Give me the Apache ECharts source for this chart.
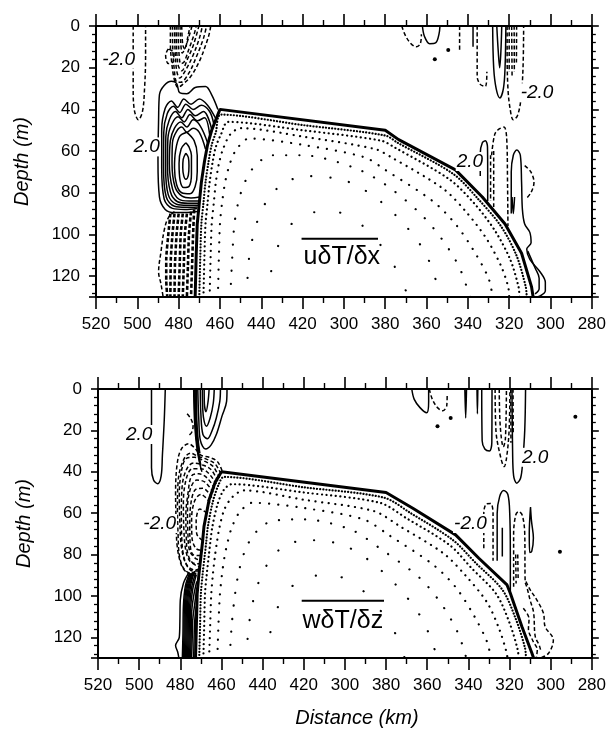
<!DOCTYPE html>
<html><head><meta charset="utf-8">
<script src="https://cdn.jsdelivr.net/npm/echarts@6/dist/echarts.min.js"></script>
<style>html,body{margin:0;padding:0;background:#fff}#c{width:609px;height:735px}</style>
</head><body><div id="c"></div>
<script>
// ---------- axis ticks ----------
const xTickValues = [520,500,480,460,440,420,400,380,360,340,320,300,280];
const xTickLabels = ['520','500','480','460','440','420','300','380','360','340','320','300','280'];
const yTickValues = [0,20,40,60,80,100,120];

// ---------- top panel: u dT/dx ----------
const uBoundary = [[472,130],[471.5,110],[471,95],[470,85],[469,75],[467.5,65],[466,57],[464,50],[462,45],[460,40],[380,50],[373.5,54.5],[346,69],[333,82],[322,95],[314,109],[309.2,125],[308.4,130]];
const uStipple = [
 [[470,130],[469.5,110],[469,95],[468,85],[467,75],[465.5,65],[464,57],[462,51],[459.5,42.5],[420,47.5],[380,52.5],[374,56],[347,71],[335,83],[324,96],[316.5,110],[312,125],[311.5,130]],
 [[468,130],[467.5,110],[467,95],[466,85],[465,75],[463.5,65],[462,58],[459.5,52],[456,46],[420,50],[382,55],[375,58.5],[349,73.5],[337,85],[327,98],[319.5,112],[315.5,125],[315,130]],
 [[465,130],[464.5,110],[464,95],[463,85],[462,75],[460.5,66],[458.5,59],[455,52],[450,49],[420,53],[385,59],[377,63],[352,78],[341,89],[331,102],[324,115],[320.5,125],[320,130]],
 [[461,130],[460.5,110],[460,95],[459,85],[457.5,75],[455.5,67],[452.5,60],[446,54],[420,57],[390,63],[380,69],[357,84],[346,95],[337,108],[330,121],[328,130]],
 [[455,130],[454,110],[453,95],[451,84],[448,75],[443,67],[435,62],[420,62],[395,68],[380,76],[363,90],[352,103],[344,116],[339,130]],
 [[447,130],[446,112],[443,97],[438,85],[430,76],[418,72],[400,74],[385,82],[370,96],[360,110],[353,130]],
 [[437,130],[434,112],[428,98],[418,90],[405,89],[392,95],[380,108],[372,122],[369,130]]
];
const uPositive = [
 [[476.5,61],[477.8,64],[478,68],[477.5,72],[476.5,73.5],[475.3,71.5],[475,67],[475.3,63],[476.5,61]],
 [[476.5,56],[478.8,59],[479.8,66],[479.3,74],[477.5,77.5],[475,77],[473.8,71],[473.8,62],[475,58],[476.5,56]],
 [[476,51],[479.5,53],[481.5,60],[482,68],[481,76],[478.5,80],[474.5,80.5],[472,77],[471,70],[471,62],[472.5,55],[476,51]],
 [[469.8,82],[474,82.5],[478.5,81.5],[481.8,77],[483.2,66],[483,56],[481,50.5],[478.5,48.5],[476,51],[473,49],[470,51],[467,59]],
 [[470,84],[475,84],[480,83],[483,78],[484.5,66],[484,55],[482,49],[479,46],[476,48.5],[473,45],[469.5,48],[466,56]],
 [[470.3,85],[475.5,85],[480.5,84.3],[484,79.5],[485.4,67],[485.2,54],[483.3,47],[480.3,43.5],[477.3,46],[474.5,42.5],[471,45.5],[467.5,44],[465,52]],
 [[470.5,86],[476,86],[481,85.5],[485,81],[486.3,68],[486.2,53],[484.5,45],[481.5,41],[478.5,44],[475.5,40],[472,43],[468,41],[464,49.5]],
 [[470.8,86.8],[476.5,87],[482,86.5],[486,82],[487.3,68],[487.2,51],[485.5,42],[482.5,38.5],[479.5,41.5],[476.5,37.5],[473,40],[469,38],[465,41],[463,47]],
 [[471,87.5],[477,88],[483,87.5],[487,83],[488.2,68],[488.2,50],[486.5,39.5],[483.5,36],[480.5,39],[477.5,35],[474,37.5],[470,35],[466,38],[462,44.5]],
 [[471,89],[476,89.5],[482,89.5],[486.5,88],[489.3,82],[490,65],[489.7,45],[489.3,33],[487,28.5],[483.5,26.5],[481,27.5],[479.5,32],[476,32.5],[472,29.5],[467,29],[464,33],[461,40]],
 [[362,0],[361,5],[358.5,8.5],[355.5,8],[354,4],[353.5,0]],
 [[337.5,0],[337.5,10]],
 [[328,0],[327.5,20],[326.3,30],[324.5,34.5],[322.8,30],[322,20],[321.6,0]],
 [[326,0],[325.3,12],[324.6,20],[324,12],[323.6,0]],
 [[334,72],[334,61],[333,56],[331.5,55],[330.5,58],[330.4,70],[330.4,84]],
 [[319,90],[319,70],[318,62],[316.3,59.5],[314.6,62],[314,75],[313.6,88],[312.5,95],[310,99],[309.4,104],[311.5,107],[310,112],[305,118],[302.5,123],[302.5,127],[305,129.5],[307.5,130]],
 [[311,108],[307.5,116],[305.5,121],[305.5,126],[307.5,128.5]],
 [[318.6,82],[318,90],[317.4,82]]
];
const uNegative = [
 [[502,0],[502,30],[501.5,40],[499.5,45],[497.5,41],[496.5,30],[496,15],[496,0]],
 [[484,0],[484,8],[483.3,18],[482,26],[480.3,29.5],[478,28],[474,24],[470,17],[466.5,8],[465,3],[464.5,0]],
 [[483,0],[482.9,9],[482.3,19],[480.8,27],[479,27],[475,22.5],[471.5,15],[468,6],[466.5,0]],
 [[482,0],[481.8,10],[481,21],[479.5,25],[476.5,21],[473,14],[470,6],[468.5,0]],
 [[481.2,0],[481,10],[480.2,19],[478.5,21.5],[475.8,16],[472.8,9],[470.2,0]],
 [[480.3,0],[480,10],[479,18],[477.5,17.5],[475,11],[472.5,4],[471.5,0]],
 [[479.3,0],[479,8],[478.2,13],[476.3,9],[473.5,0]],
 [[478.5,0],[478,9],[477,11],[475.5,5],[474.5,0]],
 [[485,11],[486.3,14],[485,18],[482.5,17],[482.3,13],[485,11]],
 [[482,89],[485,92],[487,98],[488.5,108],[489.7,118],[488.5,124],[487.5,130]],
 [[372,0],[370.5,4],[368,8],[365,10],[363,8.5],[362.5,4]],
 [[344,0],[344,12.5]],
 [[335.5,0],[335.5,24],[334,28],[331.5,29],[330.8,22]],
 [[321,0],[321,12],[320.6,30],[319.5,40],[318,45],[316,43],[314.3,35],[313.3,20],[313,0]],
 [[320,0],[320,22]],[[318.8,0],[318.6,24]],[[317.6,0],[317.5,22]],[[316.4,0],[316.5,18]],
 [[328.5,62],[327,52],[325,49.5],[322.5,48.5],[321.2,54],[320.8,75],[320.6,96]],
 [[329,62],[329,84]],[[327.5,60],[327.5,88]],
 [[312.5,67],[309.5,70],[308,75],[309.5,80],[312,83]]
];
const uHatch = [
 [[484,90],[485,100],[486,112],[486,122],[485.5,130]],
 [[482,90],[483,100],[483.8,112],[484,130]],
 [[480,90],[481,100],[481.8,115],[482,130]],
 [[478,90],[479,100],[479.5,115],[480,130]],
 [[476,90],[477,100],[477.5,115],[478,130]],
 [[474,89],[475,100],[475.5,115],[476,130]],
 [[472.5,88],[473,100],[473.5,115],[474,130]]
];
const uSpecks = [[349.5,11.5],[356,16]];
const uLabels = [[509,16,'-2.0'],[495.5,58,'2.0'],[339,65,'2.0'],[306.5,32,'-2.0']];
const uTitle = [[401,111,'uδT/δx']];
const uOverline = [[420.5,102],[383.5,102]];

// ---------- bottom panel: w dT/dz ----------
const wBoundary = [[472.6,130],[472.2,115],[471.8,99],[471,90],[470,81],[469.2,74],[468.5,66.5],[466,53.5],[463,45],[460,40],[380,50],[367,57.6],[346.2,70.5],[334.9,81.8],[321.2,94.7],[319.6,98.7],[314,114.8],[309.1,127.7],[308.3,130]];
const wStipple = [
 [[470.8,130],[470.4,115],[470,99],[469.2,90],[468.2,81],[467.4,74],[466.6,66.5],[464.2,54.5],[461.3,46],[458.8,42.5],[420,47.5],[381,52.5],[368,60],[347.5,73],[336.5,84],[323.5,97],[317,111],[312.5,125],[312,130]],
 [[468.8,130],[468.4,115],[468,99],[467.2,90],[466.2,81],[465.4,74],[464.5,67],[462,56],[459,49],[455,46],[420,50],[383,55],[370,62.5],[349,75.5],[338.5,86.5],[326.5,99],[320,113],[316,126],[315.6,130]],
 [[466,130],[465.5,115],[465,100],[464.2,90],[463.2,81],[462.2,74],[461,67],[458.5,58],[454.5,52],[449,49],[420,53.5],[386,59],[373,66.5],[352,79.5],[341.5,90],[331,103],[325,116],[321.5,127],[321,130]],
 [[462,130],[461.5,115],[460.8,100],[459.8,90],[458.5,81],[457,74],[455,67],[451.5,60],[445,55],[420,57.5],[391,63],[378,71],[357,85],[346,96],[337,110],[331,122],[329,130]],
 [[456,130],[455,114],[453.5,100],[451.5,88],[448.5,78],[444,70],[436,64],[420,63],[397,68],[383,77],[364,91],[353,104],[345,118],[341,130]],
 [[448,130],[446.5,113],[443.5,98],[438.5,86],[431,77],[419,73],[402,75],[388,83],[373,97],[362,112],[355,130]],
 [[438,130],[435,112],[429,99],[419,91],[406,90],[393,96],[382,108],[374,121],[371,130]]
];
const wPositive = [
 [[494,0],[494,38],[493,44],[491,45.8],[489.3,42],[488.7,32],[487.8,15],[487.3,0]],
 [[457.3,0],[457.5,6],[459.7,13],[462.5,22],[465,27],[467.7,29],[470.2,25],[471,15],[471.5,0]],
 [[460.5,0],[460.8,6],[462.5,14],[464.5,20],[466.8,24],[469,22],[470,12],[470.3,0]],
 [[463.5,0],[464,7],[465.5,14],[467.3,18],[468.7,14],[469.2,6],[469.3,0]],
 [[466,0],[466.5,6],[467.5,11],[468.3,7],[468.4,0]],
 [[473.5,0],[473.3,10],[472.8,20],[472,28],[470.8,35],[469.5,40]],
 [[473.1,0],[472.9,11],[472.4,21],[471.6,29],[470.4,36]],
 [[472.8,0],[472.6,12],[472,22],[471.2,30],[470,37]],
 [[472.4,0],[472.3,13],[471.7,23],[470.9,30.5]],
 [[472.1,0],[472,14],[471.4,24],[470.5,31]],
 [[476,89],[478.5,94],[480,102],[480.2,112],[480.5,120],[482.3,124],[481.3,127],[480.7,130]],
 [[475.5,89],[477.5,95],[478.5,105],[478.7,118],[479,130]],
 [[475,89],[477,95],[478,105],[478.2,118],[478.5,130]],
 [[474.5,89],[476.5,95],[477.5,105],[477.7,118],[478,130]],
 [[474,88.5],[476,95],[477,105],[477.2,118],[477.5,130]],
 [[473.5,88.3],[475.5,95],[476.5,105],[476.7,118],[477,130]],
 [[473,88],[475,95],[476,105],[476.2,118],[476.5,130]],
 [[472.6,89],[474.5,96],[475.5,105.5],[475.7,118],[476,130]],
 [[472.3,90],[474,97],[475,106],[475.2,118],[475.5,130]],
 [[472,93],[473.5,100],[474.5,108],[474.7,118],[475,130]],
 [[472,96],[473,104],[474,112],[474.2,120],[474.5,130]],
 [[472.2,105],[473,112],[473.3,120],[473.5,130]],
 [[367.5,0],[366.3,5],[363.5,9],[360.3,11.5],[359.3,6],[359.3,0]],
 [[341.7,0],[341.3,14],[340.9,0]],
 [[335.8,0],[335.6,12],[335.4,0]],
 [[333.5,0],[333.3,25],[332,29],[329.8,30],[328.6,26],[328.5,0]],
 [[318.8,0],[318.5,30],[318,42],[316.5,45.5],[314.6,43],[313.6,35],[312.6,20],[312.2,0]],
 [[326,83],[326,60],[324.8,52],[322.8,49],[320.8,51],[319.9,60],[319.6,80],[319.6,98.5]],
 [[323.5,67],[323.5,81]],
 [[309.8,57],[309.3,64],[308.4,72],[309.2,78.5],[310.2,79],[310.4,70],[309.8,57]]
];
const wNegative = [
 [[459.7,39.5],[462,35],[466,33],[470,32],[473,28.5],[476,26.5],[479.5,29],[481.5,36],[482.3,50],[482,65],[481.5,76],[479.5,85],[476.5,89],[472,90]],
 [[460.3,41],[463,36.3],[467,34],[471.5,32.5],[475,31],[478.3,34],[481,44],[481.4,58],[481.1,70],[480.5,80],[478.5,86.5],[475,89],[471.6,89]],
 [[461,43],[464,37.5],[468,35],[473,33],[477,33.5],[479.5,40],[480.5,52],[480.2,65],[479.5,76],[477.5,84],[474,88],[471.2,88]],
 [[461.8,44.5],[465,39],[469,36.8],[473.5,35.8],[476.5,38],[479,46],[479.5,60],[479.3,72],[478.5,80],[476.5,85.5],[472.8,87.5],[471,87]],
 [[462.5,46],[466,41],[470,38.5],[474,38.5],[477,43],[478.5,55],[478.3,67],[477.5,77],[475.5,83],[470.8,86]],
 [[463.3,48],[467,43],[471,41],[474.5,42],[476.2,50],[477.3,61],[477.1,71],[476.5,79],[474,84],[470.6,84.5]],
 [[464,50],[468,45],[472,44],[475,48],[476.5,58],[476.3,70],[475.5,78],[472.5,82],[470.4,82.5]],
 [[464.7,52.5],[469,48],[472.5,48.5],[474.8,55],[475.4,66],[475.2,75],[473.8,80],[470.2,80.5]],
 [[465.5,55],[470,51],[473,54],[474.5,63],[474.3,72],[472.5,77],[470,78]],
 [[467,60],[470.5,58],[472.3,64],[472,70],[469.5,73]],
 [[476.7,12],[474.8,14.5],[473.8,18],[474.5,21],[476,22.5]],
 [[359,0],[357.5,5],[355,9],[352.5,10.5],[350.5,8],[350.3,3]],
 [[327,0],[326.6,20],[324.3,33],[322.6,37.5],[321.4,33],[320.2,20],[319.8,0]],
 [[325,0],[324.5,18],[323,28],[322,24],[321.5,0]],
 [[319.4,0],[319.3,26]],[[318.3,0],[318.2,22]],
 [[332.5,77],[332.5,60],[331.2,55.5],[329.2,55.3],[328,60],[328,83]],
 [[318,95.6],[318,70],[317,61],[315.6,59.3],[313.8,61],[312.6,70],[312.4,93],[311.5,96],[310,102],[308.3,108],[307.5,119.6],[305.5,124],[304.8,126.5]],
 [[317,80],[316.8,94]],[[316,80],[315.8,92]],
 [[312,93],[310,97],[306.7,102],[303.5,108.4],[302.7,114.8],[298.7,121.3],[301,127.7],[305,130]],
 [[313.3,106],[310.5,111],[310.8,116],[308.5,122],[306.5,126],[307,130]]
];
const wSpecks = [[348.6,14],[355,18],[295.5,78.6],[288,13.4]];
const wLabels = [[500,22,'2.0'],[490,65,'-2.0'],[339,65,'-2.0'],[307.5,33,'2.0']];
const wTitle = [[401,112,'wδT/δz']];
const wOverline = [[421,102.3],[381,102.3]];

// ---------- styles ----------
const FONT = 'Liberation Sans, Arial, Helvetica, sans-serif';
const stippleGaps = [3, 4.5, 6.5, 9, 13, 19, 26];

function lineSeries(list, xi, yi, ls, smooth, z) {
  return list.map(pts => ({
    type: 'line', xAxisIndex: xi, yAxisIndex: yi, data: pts,
    symbol: 'none', smooth: smooth, silent: true, animation: false, z: z,
    lineStyle: Object.assign({ color: '#000', opacity: 1 }, ls)
  }));
}
function stippleSeries(list, xi, yi) {
  return list.map((pts, i) => ({
    type: 'line', xAxisIndex: xi, yAxisIndex: yi, data: pts,
    symbol: 'none', smooth: 0.3, silent: true, animation: false, z: 1,
    lineStyle: { color: '#000', width: 2.2, type: [0.1, stippleGaps[i]], cap: 'round' }
  }));
}
function labelSeries(data, xi, yi, size, italic, bg) {
  return {
    type: 'scatter', xAxisIndex: xi, yAxisIndex: yi, data: data, symbolSize: 0,
    silent: true, animation: false, z: 20, itemStyle: { opacity: 1 },
    label: { show: true, position: 'inside', formatter: p => p.data[2], color: '#000', opacity: 1,
      fontFamily: FONT, fontSize: size, fontStyle: italic ? 'italic' : 'normal',
      backgroundColor: bg ? '#fff' : 'transparent', padding: bg ? [0, 1] : 0 }
  };
}
function speckSeries(data, xi, yi) {
  return { type: 'scatter', xAxisIndex: xi, yAxisIndex: yi, data: data, symbolSize: 4,
    itemStyle: { color: '#000', opacity: 1 }, silent: true, animation: false, z: 5 };
}
function panel(xi, yi, d) {
  return [].concat(
    stippleSeries(d.stipple, xi, yi),
    lineSeries([d.boundary], xi, yi, { width: 3 }, false, 6),
    lineSeries(d.pos, xi, yi, { width: 1.5 }, 0.35, 4),
    lineSeries(d.neg, xi, yi, { width: 1.5, type: [4, 2.5] }, 0.35, 4),
    lineSeries(d.hatch || [], xi, yi, { width: 2.6, type: [4, 2.2] }, 0.2, 4),
    lineSeries([d.overline], xi, yi, { width: 2 }, false, 8),
    [speckSeries(d.specks, xi, yi),
     labelSeries(d.labels, xi, yi, 19, true, true),
     labelSeries(d.title, xi, yi, 25, false, false)]
  );
}

function xAxisDef(grid, pos, withLabels, name) {
  return {
    type: 'value', gridIndex: grid, position: pos, min: 280, max: 520, interval: 20, inverse: true,
    axisLine: { show: true, onZero: false, lineStyle: { color: '#000', width: 2 } },
    axisTick: { show: true, length: 12, lineStyle: { color: '#000', width: 1.6 } },
    minorTick: { show: true, splitNumber: 2, length: 6, lineStyle: { color: '#000', width: 1.4 } },
    splitLine: { show: false }, minorSplitLine: { show: false },
    axisLabel: { show: withLabels, margin: 19, fontSize: 17, fontFamily: FONT, color: '#000',
      formatter: v => { const i = xTickValues.indexOf(v); return i >= 0 ? xTickLabels[i] : ''; } },
    name: name || '', nameLocation: 'middle', nameGap: 50,
    nameTextStyle: { fontFamily: FONT, fontSize: 20, fontStyle: 'italic', color: '#000', padding: [0, 0, 0, 24] }
  };
}
function yAxisDef(grid, pos, withLabels, name) {
  return {
    type: 'value', gridIndex: grid, position: pos, min: 0, max: 130, interval: 20, inverse: true,
    axisLine: { show: true, onZero: false, lineStyle: { color: '#000', width: 2 } },
    axisTick: { show: true, length: 7, lineStyle: { color: '#000', width: 1.6 } },
    minorTick: { show: true, splitNumber: 5, length: 4, lineStyle: { color: '#000', width: 1.3 } },
    splitLine: { show: false }, minorSplitLine: { show: false },
    axisLabel: { show: withLabels, margin: 16, fontSize: 17, fontFamily: FONT, color: '#000', showMaxLabel: false,
      formatter: v => yTickValues.indexOf(v) >= 0 ? String(v) : '' },
    name: name || '', nameLocation: 'middle', nameGap: 64,
    nameTextStyle: { fontFamily: FONT, fontSize: 20, fontStyle: 'italic', color: '#000' }
  };
}

const option = {
  animation: false,
  backgroundColor: '#fff',
  grid: [
    { left: 96, top: 26, width: 498, height: 271 },
    { left: 98, top: 389, width: 497, height: 269 }
  ],
  xAxis: [
    xAxisDef(0, 'bottom', true), xAxisDef(0, 'top', false),
    xAxisDef(1, 'bottom', true, 'Distance (km)'), xAxisDef(1, 'top', false)
  ],
  yAxis: [
    yAxisDef(0, 'left', true, 'Depth (m)'), yAxisDef(0, 'right', false),
    yAxisDef(1, 'left', true, 'Depth (m)'), yAxisDef(1, 'right', false)
  ],
  series: [].concat(
    panel(0, 0, { stipple: uStipple, boundary: uBoundary, pos: uPositive, neg: uNegative, hatch: uHatch,
      overline: uOverline, specks: uSpecks, labels: uLabels, title: uTitle }),
    panel(2, 2, { stipple: wStipple, boundary: wBoundary, pos: wPositive, neg: wNegative,
      overline: wOverline, specks: wSpecks, labels: wLabels, title: wTitle })
  )
};
const chart = echarts.init(document.getElementById('c'), null, { renderer: 'canvas' });
chart.setOption(option);
</script></body></html>
